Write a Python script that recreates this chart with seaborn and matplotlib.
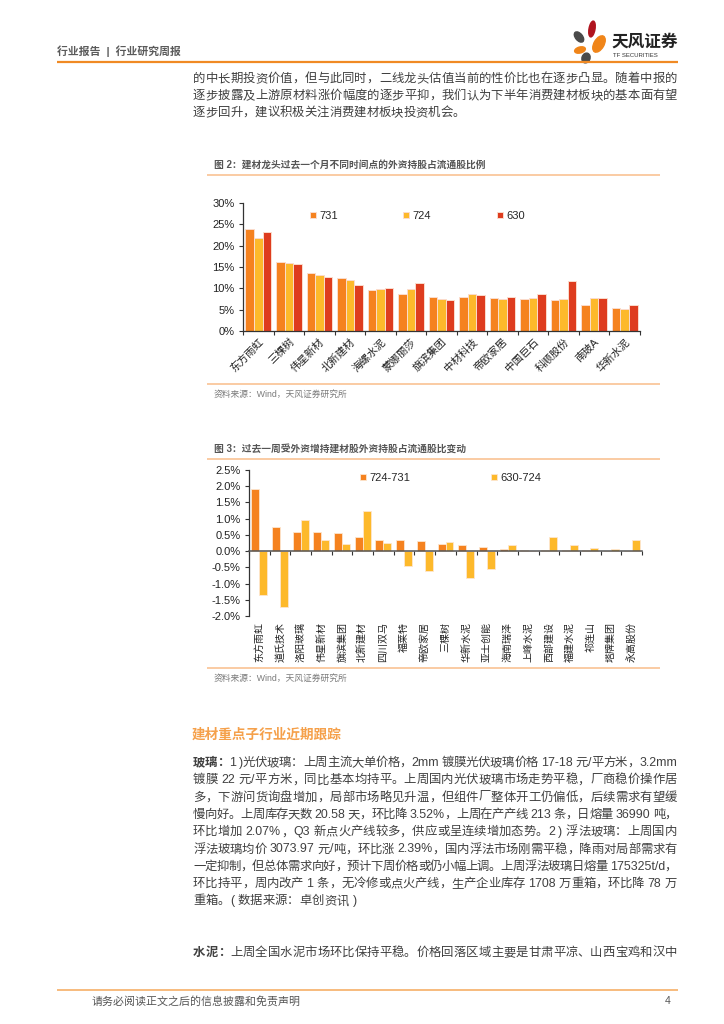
import re
import numpy as np
import pandas as pd
import matplotlib
matplotlib.use("Agg")
import matplotlib.pyplot as plt
import seaborn as sns
from matplotlib.patches import Ellipse
from matplotlib.ticker import FixedLocator, FuncFormatter

# ---------------- data ----------------
companies1 = ['东方雨虹', '三棵树', '伟星新材', '北新建材', '海螺水泥', '蒙娜丽莎', '旗滨集团',
              '中材科技', '帝欧家居', '中国巨石', '科顺股份', '南玻A', '华新水泥']
series1 = ['731', '724', '630']
hold_731 = [23.8, 16.2, 13.6, 12.5, 9.7, 8.7, 8.0, 8.0, 7.8, 7.5, 7.2, 6.1, 5.4]
hold_724 = [21.9, 15.9, 13.1, 12.0, 9.8, 9.9, 7.5, 8.7, 7.5, 7.7, 7.6, 7.7, 5.2]
hold_630 = [23.3, 15.7, 12.7, 10.7, 10.0, 11.3, 7.3, 8.5, 8.0, 8.7, 11.7, 7.7, 6.0]
yticks1 = [0, 5, 10, 15, 20, 25, 30]

companies2 = ['东方雨虹', '道氏技术', '洛阳玻璃', '伟星新材', '旗滨集团', '北新建材', '四川双马',
              '福莱特', '帝欧家居', '三棵树', '华新水泥', '亚士创能', '海南瑞泽', '上峰水泥',
              '西部建设', '福建水泥', '祁连山', '塔牌集团', '永高股份']
series2 = ['724-731', '630-724']
chg_724_731 = [1.91, 0.75, 0.60, 0.60, 0.55, 0.45, 0.35, 0.35, 0.30, 0.22, 0.18, 0.13,
               0.08, 0.04, 0.03, 0.03, 0.03, 0.01, 0.01]
chg_630_724 = [-1.36, -1.71, 0.95, 0.33, 0.21, 1.23, 0.26, -0.45, -0.61, 0.29, -0.83, -0.54,
               0.18, 0.0, 0.45, 0.20, 0.11, 0.08, 0.33]
yticks2 = [-2.0, -1.5, -1.0, -0.5, 0.0, 0.5, 1.0, 1.5, 2.0, 2.5]

# ---------------- texts ----------------
header_text = '行业报告  |  行业研究周报'
para1 = ['的中长期投资价值，但与此同时，二线龙头估值当前的性价比也在逐步凸显。随着中报的',
         '逐步披露及上游原材料涨价幅度的逐步平抑，我们认为下半年消费建材板块的基本面有望',
         '逐步回升，建议积极关注消费建材板块投资机会。']
fig2_title = '图 2：建材龙头过去一个月不同时间点的外资持股占流通股比例'
fig3_title = '图 3：过去一周受外资增持建材股外资持股占流通股比变动'
source_text = '资料来源：Wind，天风证券研究所'
heading = '建材重点子行业近期跟踪'
para2 = ['玻璃：1 )光伏玻璃：上周主流大单价格，2mm 镀膜光伏玻璃价格 17-18 元/平方米，3.2mm',
         '镀膜 22 元/平方米，同比基本均持平。上周国内光伏玻璃市场走势平稳，厂商稳价操作居',
         '多，下游问货询盘增加，局部市场略见升温，但组件厂整体开工仍偏低，后续需求有望缓',
         '慢向好。上周库存天数 20.58 天，环比降 3.52%，上周在产产线 213 条，日熔量 36990 吨，',
         '环比增加 2.07%，Q3 新点火产线较多，供应或呈连续增加态势。2 ) 浮法玻璃：上周国内',
         '浮法玻璃均价 3073.97 元/吨，环比涨 2.39%，国内浮法市场刚需平稳，降雨对局部需求有',
         '一定抑制，但总体需求向好，预计下周价格或仍小幅上调。上周浮法玻璃日熔量 175325t/d，',
         '环比持平，周内改产 1 条，无冷修或点火产线，生产企业库存 1708 万重箱，环比降 78 万',
         '重箱。( 数据来源：卓创资讯 )']
para3 = '水泥：上周全国水泥市场环比保持平稳。价格回落区域主要是甘肃平凉、山西宝鸡和汉中'
footer_text = '请务必阅读正文之后的信息披露和免责声明'
page_no = '4'

# ---------------- style ----------------
sns.set_theme(style='ticks')
plt.rcParams['font.family'] = ['Liberation Sans', 'Noto Sans CJK SC', 'DejaVu Sans']
plt.rcParams['axes.unicode_minus'] = False

C_ORANGE = '#F5821F'
C_YELLOW = '#FDB92B'
C_RED = '#DE3C1E'
EDGE = '#fbdccd'
TXT = '#404040'

W, H = 724, 1024
fig = plt.figure(figsize=(W / 100, H / 100), dpi=100)
fig.patch.set_facecolor('white')
ov = fig.add_axes([0, 0, 1, 1])
ov.set_xlim(0, W)
ov.set_ylim(H, 0)
ov.axis('off')

renderer = fig.canvas.get_renderer()
_cache = {}


def tok_width(tok, size, weight):
    key = (tok, size, weight)
    if key not in _cache:
        if tok.isspace():
            w = size * 100 / 72 * 0.28 * len(tok)
        else:
            t = ov.text(0, 0, tok, fontsize=size, weight=weight)
            w = t.get_window_extent(renderer).width
            t.remove()
        _cache[key] = w
    return _cache[key]


def draw_line(s, x0, y, size=8.9, color=TXT, right=None, bold_n=0):
    toks = re.findall(r'[\x21-\x7e]+|\s+|[^\x00-\x7f]', s)
    info = []
    pos = 0
    for tk in toks:
        wt = 'bold' if pos < bold_n else 'normal'
        info.append((tk, wt, tok_width(tk, size, wt)))
        pos += len(tk)
    total = sum(i[2] for i in info)
    gap = 0.0
    if right is not None and len(info) > 1:
        gap = (right - x0 - total) / (len(info) - 1)
    x = x0
    for tk, wt, w in info:
        if not tk.isspace():
            ov.text(x, y, tk, fontsize=size, color=color, weight=wt,
                    ha='left', va='center')
        x += w + gap


def hline(y, x0, x1, color, lw):
    ov.plot([x0, x1], [y, y], color=color, lw=lw, solid_capstyle='butt')


# ---------------- header ----------------
ov.text(57, 51, header_text, fontsize=7.8, color='#5a5a5a', weight='bold', va='center')
hline(62, 57, 678, '#F08A24', 1.6)
# logo
ov.add_patch(Ellipse((592, 29), 6, 16, angle=10, color='#B0141E'))
ov.add_patch(Ellipse((579, 37), 7, 12, angle=-40, color='#4a4a4a'))
ov.add_patch(Ellipse((599, 44), 10, 18, angle=30, color='#F08519'))
ov.add_patch(Ellipse((580, 50), 11, 6, angle=-15, color='#F08519'))
ov.add_patch(Ellipse((586, 58), 8, 10, angle=20, color='#4a4a4a'))
ov.text(611, 42, '天风证券', fontsize=12, weight='bold', color='#222222', va='center')
ov.text(613, 55.5, 'TF SECURITIES', fontsize=4.3, color='#333333', va='center')

# ---------------- paragraph 1 ----------------
for i, (ln, yy) in enumerate(zip(para1, [79, 96, 113])):
    draw_line(ln, 193, yy, right=677 if i < 2 else None)

# ---------------- figure 2 ----------------
ov.text(214, 165, fig2_title, fontsize=7, weight='bold', color='#555555', va='center')
hline(174.5, 207, 660, '#F9C293', 1.2)
hline(384, 207, 660, '#F9C293', 1.2)
ov.text(214, 394, source_text, fontsize=6.3, color='#7a7a7a', va='center')


def px_axes(x0, y0, x1, y1):
    return fig.add_axes([x0 / W, 1 - y1 / H, (x1 - x0) / W, (y1 - y0) / H])


ax1 = px_axes(243, 203, 640, 331)
df1 = pd.DataFrame({
    'company': companies1 * 3,
    'series': [s for s in series1 for _ in companies1],
    'value': hold_731 + hold_724 + hold_630,
})
sns.barplot(data=df1, x='company', y='value', hue='series', order=companies1,
            hue_order=series1, palette=[C_ORANGE, C_YELLOW, C_RED], saturation=1,
            width=0.84, edgecolor=EDGE, linewidth=0.7, errorbar=None, ax=ax1)
ax1.set_xlim(-0.5, len(companies1) - 0.5)
ax1.set_ylim(0, 30)
ax1.set_yticks(yticks1)
ax1.yaxis.set_major_formatter(FuncFormatter(lambda v, p: f'{v:.0f}%'))
ax1.set_xlabel('')
ax1.set_ylabel('')
ax1.set_xticks(range(len(companies1)))
ax1.set_xticklabels(companies1, rotation=45, ha='right', rotation_mode='anchor')
ax1.xaxis.set_minor_locator(FixedLocator(np.arange(-0.5, len(companies1), 1.0)))
ax1.tick_params(axis='x', which='major', length=0, pad=4, labelsize=7.6, labelcolor='#222222')
ax1.tick_params(axis='x', which='minor', length=3, width=0.8, color='#333333', direction='out')
ax1.tick_params(axis='y', length=3, width=0.8, color='#333333', pad=3,
                labelsize=8, labelcolor='#222222')
for sp in ['top', 'right']:
    ax1.spines[sp].set_visible(False)
for sp in ['left', 'bottom']:
    ax1.spines[sp].set_color('#333333')
    ax1.spines[sp].set_linewidth(0.9)
ax1.set_facecolor('none')
h1, l1 = ax1.get_legend_handles_labels()
if ax1.legend_ is not None:
    ax1.legend_.remove()
ax1.legend(h1, l1, loc='center left', bbox_to_anchor=(0.168, 0.898), ncol=3,
           frameon=False, fontsize=8, handlelength=0.55, handleheight=0.55,
           handletextpad=0.3, columnspacing=5.9, borderpad=0, borderaxespad=0)

# ---------------- figure 3 ----------------
ov.text(214, 449, fig3_title, fontsize=7, weight='bold', color='#555555', va='center')
hline(459, 207, 660, '#F9C293', 1.2)
hline(668, 207, 660, '#F9C293', 1.2)
ov.text(214, 678, source_text, fontsize=6.3, color='#7a7a7a', va='center')

ax2 = px_axes(249, 470, 642, 616)
df2 = pd.DataFrame({
    'company': companies2 * 2,
    'series': [s for s in series2 for _ in companies2],
    'value': chg_724_731 + chg_630_724,
})
sns.barplot(data=df2, x='company', y='value', hue='series', order=companies2,
            hue_order=series2, palette=[C_ORANGE, C_YELLOW], saturation=1,
            width=0.77, edgecolor='#fde6cf', linewidth=0.6, errorbar=None, ax=ax2)
ax2.set_xlim(-0.5, len(companies2) - 0.5)
ax2.set_ylim(-2.0, 2.5)
ax2.set_yticks(yticks2)
ax2.yaxis.set_major_formatter(FuncFormatter(lambda v, p: f'{v:.1f}%'))
ax2.set_xlabel('')
ax2.set_ylabel('')
ax2.spines['bottom'].set_position(('data', 0))
ax2.set_xticks(range(len(companies2)))
ax2.set_xticklabels(companies2, rotation=90, va='top', ha='center')
ax2.xaxis.set_minor_locator(FixedLocator(np.arange(-0.5, len(companies2), 1.0)))
ax2.tick_params(axis='x', which='major', length=0, pad=51, labelsize=7.2, labelcolor='#222222')
ax2.tick_params(axis='x', which='minor', length=3, width=0.8, color='#333333', direction='out')
ax2.tick_params(axis='y', length=3, width=0.8, color='#333333', pad=3,
                labelsize=8, labelcolor='#222222')
for sp in ['top', 'right']:
    ax2.spines[sp].set_visible(False)
ax2.spines['left'].set_color('#333333')
ax2.spines['left'].set_linewidth(0.9)
ax2.spines['bottom'].set_color('#555555')
ax2.spines['bottom'].set_linewidth(1.1)
ax2.set_facecolor('none')
h2, l2 = ax2.get_legend_handles_labels()
if ax2.legend_ is not None:
    ax2.legend_.remove()
ax2.legend(h2, l2, loc='center left', bbox_to_anchor=(0.282, 0.945), ncol=2,
           frameon=False, fontsize=8, handlelength=0.55, handleheight=0.55,
           handletextpad=0.3, columnspacing=7.3, borderpad=0, borderaxespad=0)

# ---------------- section text ----------------
ov.text(192, 735, heading, fontsize=9.8, weight='bold', color='#F5A04A', va='center')
ys2 = [763, 780.3, 797.6, 814.9, 832.2, 849.5, 866.8, 884.1, 901.4]
for i, (ln, yy) in enumerate(zip(para2, ys2)):
    draw_line(ln, 193, yy, right=677 if i < len(para2) - 1 else None,
              bold_n=3 if i == 0 else 0)
draw_line(para3, 193, 953, right=677, bold_n=3)

# ---------------- footer ----------------
hline(990, 57, 678, '#F5A85A', 1.1)
ov.text(92, 1001, footer_text, fontsize=7.9, color='#555555', va='center')
ov.text(668, 1001, page_no, fontsize=7.6, color='#555555', va='center', ha='center')

fig.savefig('out.png', dpi=100, facecolor='white')
